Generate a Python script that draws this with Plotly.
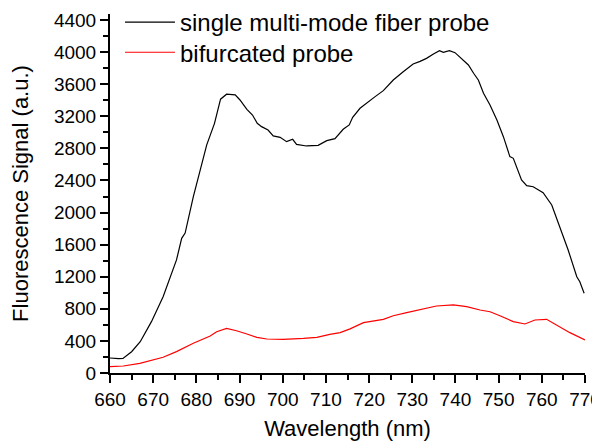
import plotly.graph_objects as go

# single multi-mode fiber probe (black)
wl_single = [660, 661, 662, 663, 665, 667, 669.6, 672.3, 675.4, 676.6, 677.4, 679.3, 681.2, 682.4,
             684.2, 685.6, 687.0, 689.0, 690.1, 691.7, 693.0, 694.1, 695.1, 696.6, 697.8, 699.4,
             700.9, 702.3, 703.2, 705.5, 708.2, 710.2, 712.1, 714.0, 715.4, 716.2, 717.9, 719.8,
             721.4, 723.3, 725.6, 727.9, 730.2, 731.8, 733.3, 734.9, 736.3, 737.2, 738.6, 739.9,
             741.1, 743.0, 744.2, 745.3, 746.5, 748.0, 749.6, 751.1, 752.6, 753.4, 755.3, 756.5,
             758.0, 760.3, 762.3, 764.2, 766.1, 768.1, 768.8, 769.8]
sig_single = [187, 180, 180, 182, 265, 390, 640, 950, 1410, 1679, 1745, 2198, 2593, 2843,
              3112, 3413, 3475, 3466, 3403, 3287, 3216, 3112, 3071, 3029, 2955, 2938,
              2884, 2913, 2850, 2830, 2838, 2896, 2921, 3038, 3092, 3187, 3300, 3383,
              3445, 3520, 3652, 3756, 3852, 3885, 3922, 3977, 4018, 3997, 4018, 3993,
              3935, 3840, 3736, 3652, 3486, 3341, 3154, 2946, 2697, 2676, 2406, 2335,
              2322, 2247, 2094, 1824, 1533, 1200, 1138, 994]

# bifurcated probe (red)
wl_bif = [660, 663.1, 666.9, 672.3, 675.4, 679.3, 683.2, 684.7, 687.0, 689.3, 691.7, 694.0,
          696.3, 700.1, 704.8, 707.9, 710.9, 713.3, 715.6, 718.7, 723.3, 725.6, 728.7, 732.6,
          735.6, 739.5, 742.6, 745.7, 748.0, 750.3, 753.4, 756.1, 758.4, 761.1, 763.4, 766.5, 770]
sig_bif = [79, 87, 121, 196, 266, 370, 461, 515, 557, 527, 486, 445,
           424, 420, 432, 445, 482, 503, 550, 627, 669, 714, 752, 794,
           835, 848, 827, 785, 764, 714, 640, 611, 661, 669, 598, 503, 411]

x_ticks = list(range(660, 771, 10))
y_ticks = list(range(0, 4401, 400))

fig = go.Figure()
fig.add_trace(go.Scatter(x=wl_single, y=sig_single, mode="lines",
                         line=dict(color="#000000", width=1.2),
                         name="single multi-mode fiber probe", legend="legend"))
fig.add_trace(go.Scatter(x=wl_bif, y=sig_bif, mode="lines",
                         line=dict(color="#ff0000", width=1.2),
                         name="bifurcated probe", legend="legend2"))

font_family = "Liberation Sans, Arial, sans-serif"
legend_style = dict(x=0.021, xanchor="left", yanchor="top",
                    font=dict(size=24, family=font_family),
                    bgcolor="rgba(0,0,0,0)", borderwidth=0, itemwidth=50)

# page body adds an 8px offset; figure is sized to fill the rest of the window
fig.update_layout(
    width=592, height=433,
    margin=dict(l=102, r=15, t=6, b=68, autoexpand=False),
    paper_bgcolor="white", plot_bgcolor="white",
    font=dict(family=font_family, color="black", size=18),
    showlegend=True,
    legend=dict(y=1.039, **legend_style),
    legend2=dict(y=0.955, **legend_style),
    xaxis=dict(range=[660, 770], tickvals=x_ticks, ticktext=[str(v) for v in x_ticks],
               showline=True, linecolor="black", linewidth=2,
               ticks="outside", ticklen=8, tickwidth=1.5, tickcolor="black",
               minor=dict(dtick=5, ticks="outside", ticklen=5, tickwidth=1.5, tickcolor="black"),
               showgrid=False, zeroline=False, automargin=False,
               ticklabeloverflow="allow",
               tickfont=dict(size=19),
               title=dict(text="Wavelength (nm)", font=dict(size=22), standoff=14)),
    yaxis=dict(range=[0, 4475], tickvals=y_ticks, ticktext=[str(v) for v in y_ticks],
               showline=True, linecolor="black", linewidth=2,
               ticks="outside", ticklen=8, tickwidth=1.5, tickcolor="black",
               minor=dict(dtick=200, ticks="outside", ticklen=5, tickwidth=1.5, tickcolor="black"),
               showgrid=False, zeroline=False, automargin=False,
               ticklabeloverflow="allow",
               tickfont=dict(size=19),
               title=dict(text="Fluorescence Signal (a.u.)", font=dict(size=22), standoff=19)),
)

fig.write_html("out.html")
